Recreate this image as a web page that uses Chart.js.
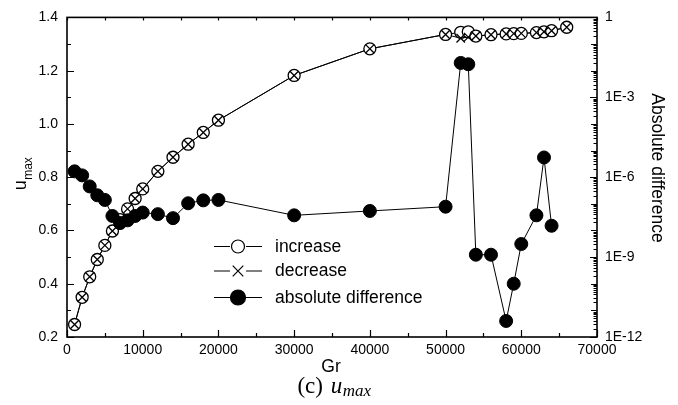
<!DOCTYPE html>
<html>
<head>
<meta charset="utf-8">
<script src="https://cdn.jsdelivr.net/npm/chart.js@4.4.1/dist/chart.umd.min.js"></script>
<style>
html,body{margin:0;padding:0;background:#fff;}
#wrap{width:678px;height:405px;position:relative;}
</style>
</head>
<body>
<div id="wrap"><canvas id="c" width="678" height="405"></canvas></div>
<script>
// ---- data ----
const grU = [1000,2000,3000,4000,5000,6000,7000,8000,9000,10000,12000,14000,16000,18000,20000,30000,40000,50000,52000,53000,54000,56000,58000,59000,60000,62000,63000,64000,66000];
const increaseU = [0.247,0.349,0.426,0.491,0.544,0.598,0.641,0.681,0.720,0.756,0.822,0.875,0.924,0.968,1.014,1.182,1.282,1.336,1.344,1.346,1.330,1.335,1.338,1.339,1.340,1.343,1.346,1.350,1.363];
const decreaseU = [0.247,0.349,0.426,0.491,0.544,0.598,0.641,0.681,0.720,0.756,0.822,0.875,0.924,0.968,1.014,1.182,1.282,1.336,1.322,1.326,1.330,1.335,1.338,1.339,1.340,1.343,1.346,1.350,1.363];
const grD = [1000,2000,3000,4000,5000,6000,7000,8000,9000,10000,12000,14000,16000,18000,20000,30000,40000,50000,52000,53000,54000,56000,58000,59000,60000,62000,63000,64000];
const absDiff = [1.66e-6,1.17e-6,4.5e-7,2.1e-7,1.4e-7,3.5e-8,1.9e-8,2.4e-8,3.5e-8,4.7e-8,4.1e-8,2.9e-8,1.05e-7,1.35e-7,1.4e-7,3.7e-8,5.4e-8,7.8e-8,1.95e-2,1.74e-2,1.23e-9,1.23e-9,4e-12,1e-10,3.1e-9,3.7e-8,5.5e-6,1.5e-8];
const xTicks = [0,10000,20000,30000,40000,50000,60000,70000];
const leftTicks = [0.2,0.4,0.6,0.8,1.0,1.2,1.4];
const rightTickExps = [-12,-9,-6,-3,0];
const seriesNames = ['increase','decrease','absolute difference'];
const xTitle = 'Gr';
const rightTitle = 'Absolute difference';

const SANS = '"Liberation Sans", Arial, sans-serif';
const SERIF = '"Liberation Serif", "Times New Roman", serif';

const pts = (xs, ys) => xs.map((x, i) => ({x: x, y: ys[i]}));

const decoPlugin = {
  id: 'deco',
  afterDraw(chart) {
    const ctx = chart.ctx;
    const ca = chart.chartArea;
    const xs = chart.scales.x, yl = chart.scales.y, yr = chart.scales.y2;
    ctx.save();
    ctx.strokeStyle = '#000';
    ctx.fillStyle = '#000';
    // ticks
    ctx.lineWidth = 1.2;
    ctx.beginPath();
    for (let v = 0; v <= 70000; v += 5000) {
      const px = Math.round(xs.getPixelForValue(v)) + 0.5;
      const len = (v % 10000 === 0) ? 7 : 4;
      ctx.moveTo(px, ca.bottom); ctx.lineTo(px, ca.bottom - len);
      ctx.moveTo(px, ca.top); ctx.lineTo(px, ca.top + 3);
    }
    for (let k = 2; k <= 14; k++) {
      const v = k / 10;
      const py = Math.round(yl.getPixelForValue(v)) + 0.5;
      const len = (k % 2 === 0) ? 7 : 4;
      ctx.moveTo(ca.left, py); ctx.lineTo(ca.left + len, py);
    }
    for (let e = -12; e <= 0; e++) {
      const py = Math.round(yr.getPixelForValue(Math.pow(10, e))) + 0.5;
      const len = (e % 3 === 0) ? 7 : 6;
      ctx.moveTo(ca.right, py); ctx.lineTo(ca.right - len, py);
      if (e < 0) {
        for (let m = 2; m <= 9; m++) {
          const pm = Math.round(yr.getPixelForValue(m * Math.pow(10, e))) + 0.5;
          ctx.moveTo(ca.right, pm); ctx.lineTo(ca.right - 3.5, pm);
        }
      }
    }
    ctx.stroke();
    // frame
    ctx.lineWidth = 1.6;
    ctx.strokeRect(ca.left, ca.top, ca.right - ca.left, ca.bottom - ca.top);

    // legend
    const H = Chart.helpers;
    const rows = [
      {y: 246, style: 'circle', r: 6.5, fill: '#fff'},
      {y: 270.5, style: 'crossRot', r: 7.5, fill: '#000'},
      {y: 297, style: 'circle', r: 7.5, fill: '#000'}
    ];
    ctx.font = '17.5px ' + SANS;
    ctx.textBaseline = 'middle';
    ctx.textAlign = 'left';
    rows.forEach((r, i) => {
      ctx.lineWidth = 1.2;
      ctx.strokeStyle = '#000';
      ctx.beginPath();
      ctx.moveTo(214, r.y + 0.5); ctx.lineTo(230, r.y + 0.5);
      ctx.moveTo(246, r.y + 0.5); ctx.lineTo(262, r.y + 0.5);
      ctx.stroke();
      ctx.fillStyle = r.fill;
      H.drawPoint(ctx, {pointStyle: r.style, radius: r.r, rotation: 0, borderWidth: 1.3}, 238, r.y + 0.5);
      ctx.fillStyle = '#000';
      ctx.fillText(seriesNames[i], 275, r.y + 1);
    });

    // x title
    ctx.font = '17.5px ' + SANS;
    ctx.textAlign = 'center';
    ctx.textBaseline = 'middle';
    ctx.fillText(xTitle, 331, 367);

    // right title
    ctx.save();
    ctx.translate(657, 168);
    ctx.rotate(Math.PI / 2);
    ctx.fillText(rightTitle, 0, 0);
    ctx.restore();

    // left title u_max
    ctx.save();
    ctx.translate(26, 174);
    ctx.rotate(-Math.PI / 2);
    ctx.textAlign = 'left';
    ctx.textBaseline = 'alphabetic';
    ctx.font = '18px ' + SANS;
    const wu = ctx.measureText('u').width;
    ctx.font = '12px ' + SANS;
    const wm = ctx.measureText('max').width;
    const x0 = -(wu + wm) / 2;
    ctx.font = '18px ' + SANS;
    ctx.fillText('u', x0, 0);
    ctx.font = '12px ' + SANS;
    ctx.fillText('max', x0 + wu + 0.5, 6);
    ctx.restore();

    // caption (c) u_max
    ctx.textAlign = 'left';
    ctx.textBaseline = 'alphabetic';
    const f1 = '23px ' + SERIF, f2 = 'italic 23px ' + SERIF, f3 = 'italic 17px ' + SERIF;
    ctx.font = f1; const w1 = ctx.measureText('(c) ').width;
    ctx.font = f2; const w2 = ctx.measureText('u').width;
    ctx.font = f3; const w3 = ctx.measureText('max').width;
    let cx = 333 - (w1 + w2 + w3) / 2;
    const by = 393;
    ctx.font = f1; ctx.fillText('(c) ', cx, by); cx += w1 + 2;
    ctx.font = f2; ctx.fillText('u', cx, by); cx += w2 + 0.5;
    ctx.font = f3; ctx.fillText('max', cx, by + 3);
    ctx.restore();
  }
};

const chart = new Chart(document.getElementById('c'), {
  type: 'line',
  data: {
    datasets: [
      {
        label: 'decrease-line',
        data: pts(grU, decreaseU),
        yAxisID: 'y',
        borderColor: '#000', borderWidth: 1,
        pointRadius: 0, pointHoverRadius: 0,
        tension: 0, order: 4
      },
      {
        label: seriesNames[0],
        data: pts(grU, increaseU),
        yAxisID: 'y',
        borderColor: '#000', borderWidth: 1,
        pointStyle: 'circle', pointRadius: 6,
        pointBackgroundColor: '#fff', pointBorderColor: '#000', pointBorderWidth: 1.3,
        tension: 0, order: 3
      },
      {
        label: seriesNames[1],
        data: pts(grU, decreaseU),
        yAxisID: 'y',
        showLine: false,
        pointStyle: 'crossRot', pointRadius: 6,
        pointBorderColor: '#000', pointBorderWidth: 1.3,
        order: 2
      },
      {
        label: seriesNames[2],
        data: pts(grD, absDiff),
        yAxisID: 'y2',
        borderColor: '#000', borderWidth: 1,
        pointStyle: 'circle', pointRadius: 6.5,
        pointBackgroundColor: '#000', pointBorderColor: '#000', pointBorderWidth: 1,
        tension: 0, order: 1
      }
    ]
  },
  options: {
    responsive: false,
    animation: false,
    events: [],
    layout: {padding: {top: 15, left: 0, right: 0, bottom: 0}},
    plugins: {legend: {display: false}, tooltip: {enabled: false}},
    scales: {
      x: {
        type: 'linear', position: 'bottom', min: 0, max: 70000,
        afterBuildTicks: (s) => { s.ticks = xTicks.map(v => ({value: v})); },
        ticks: {color: '#000', font: {family: SANS, size: 14}, padding: 5, maxRotation: 0, autoSkip: false,
          callback: (v) => String(v)},
        grid: {display: false, drawTicks: false},
        border: {display: false},
        afterFit: (s) => { s.height = 68; }
      },
      y: {
        type: 'linear', position: 'left', min: 0.2, max: 1.4,
        afterBuildTicks: (s) => { s.ticks = leftTicks.map(v => ({value: v})); },
        ticks: {color: '#000', font: {family: SANS, size: 14}, padding: 9,
          callback: (v) => Number(v).toFixed(1)},
        grid: {display: false, drawTicks: false},
        border: {display: false},
        afterFit: (s) => { s.width = 67; }
      },
      y2: {
        type: 'logarithmic', position: 'right', min: 1e-12, max: 1,
        afterBuildTicks: (s) => { s.ticks = rightTickExps.map(e => ({value: Math.pow(10, e)})); },
        ticks: {color: '#000', font: {family: SANS, size: 14}, padding: 8, autoSkip: false,
          callback: (v) => { const e = Math.round(Math.log10(v)); return e === 0 ? '1' : '1E' + e; }},
        grid: {display: false, drawTicks: false},
        border: {display: false},
        afterFit: (s) => { s.width = 81; }
      }
    }
  },
  plugins: [decoPlugin]
});
</script>
</body>
</html>
